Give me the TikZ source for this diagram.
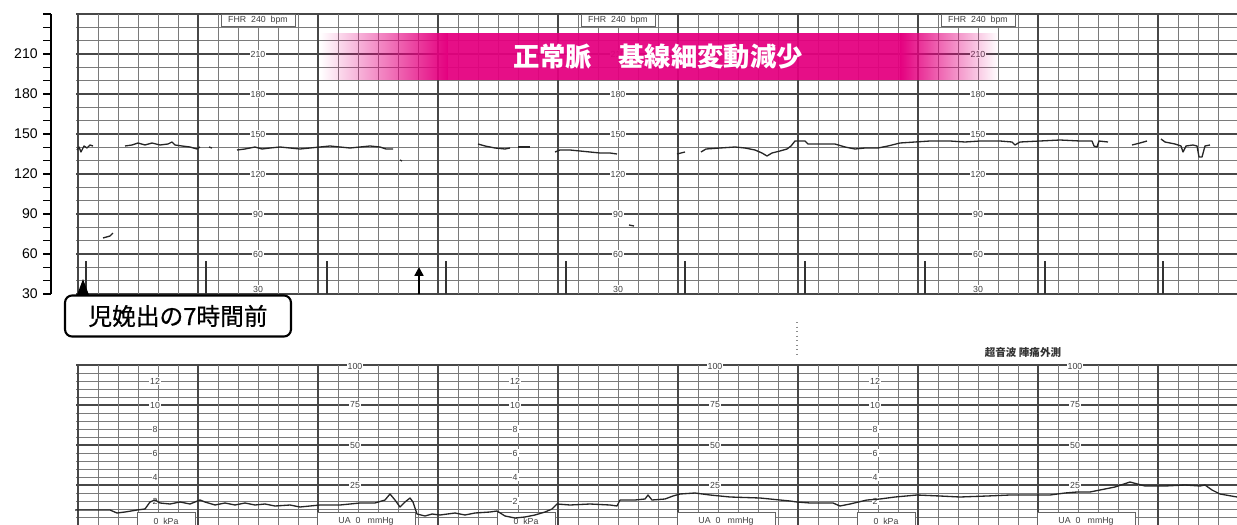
\documentclass[tikz,border=0pt]{standalone}
\usepackage{fontspec}
\setmainfont{Liberation Sans}
\newfontfamily\jpfont{Noto Sans CJK JP}
\newfontfamily\jpmid[FakeBold=0.6]{Noto Sans CJK JP}
\usetikzlibrary{arrows.meta,fadings}
\definecolor{ctgmag}{RGB}{228,0,127}
\tikzfading[name=fadein, left color=transparent!100, right color=transparent!0]
\tikzfading[name=fadeout, left color=transparent!0, right color=transparent!100]
\def\fhr#1{294-(#1-30)*4/3}
\tikzset{
	thin grid/.style={line width=0.4pt, color=black!52},
	thick grid/.style={line width=0.6pt, color=black!72},
	scale label/.style={fill=white, inner sep=0.6pt, font=\fontsize{5}{5}\selectfont, text=black!75},
	fhr box/.style={draw=black!60, line width=0.4pt, fill=white, inner sep=0pt, minimum width=1.48cm, minimum height=0.24cm, font=\fontsize{5}{5}\selectfont, text=black!75},
	zero box/.style={draw=black!60, line width=0.4pt, fill=white, inner sep=0pt, minimum height=0.36cm, font=\fontsize{5}{5}\selectfont, text=black!75},
	trace/.style={line width=0.75pt, color=black!85, line join=round},
	event mark/.style={line width=0.8pt, color=black!80},
}

\begin{document}
\begin{tikzpicture}[x=0.02cm, y=-0.02cm]
			%%%%% START %%%%%
			\useasboundingbox (0,0) rectangle (1237,524);
			
			% left bpm axis
			\draw[line width=0.6pt] (51,14) -- (51,294);
			\foreach \b in {30,40,...,240}
				\draw[line width=0.6pt] (43,{\fhr{\b}}) -- (51,{\fhr{\b}});
			\foreach \b in {30,60,...,210}
				\node[anchor=east, inner sep=0pt, font=\fontsize{8}{9}\selectfont] (ax\b) at (38,{\fhr{\b}}) {\b};
			
			% upper chart (FHR)
			\foreach \b in {30,40,...,240}
				\draw[thin grid] (76,{\fhr{\b}}) -- (1237,{\fhr{\b}});
			\foreach \b in {30,60,...,240}
				\draw[thick grid] (76,{\fhr{\b}}) -- (1237,{\fhr{\b}});
			\foreach \x in {78,98,...,1238}
				\draw[thin grid] (\x,14) -- (\x,294);
			\foreach \x in {78,198,...,1158}
				\draw[thick grid] (\x,14) -- (\x,294);
			
			% lower chart (UA)
			\foreach \k in {0,...,20}
				\draw[thin grid] (76,{525-8*\k}) -- (1237,{525-8*\k});
			\foreach \k in {5,10,15,20}
				\draw[thick grid] (76,{525-8*\k}) -- (1237,{525-8*\k});
			\foreach \x in {78,98,...,1238}
				\draw[thin grid] (\x,365) -- (\x,525);
			\foreach \x in {78,198,...,1158}
				\draw[thick grid] (\x,365) -- (\x,525);
			
			% printed scales
			\foreach \c in {258,618,978} {
				\node[fhr box] (fhr\c) at (\c,20) {FHR\ \ 240\ \ bpm};
				\foreach \b in {60,90,...,210}
					\node[scale label] (s\c-\b) at (\c,{\fhr{\b}}) {\b};
				\node[scale label] (s\c-30) at (\c,289) {30};
			}
			\foreach \c in {155,515,875} {
				\foreach \k in {2,4,...,12}
					\node[scale label] (k\c-\k) at (\c,{525-12*\k}) {\k};
				\node[zero box, minimum width=1.16cm] (kpa\c) at (\c+11,521) {0\ \ kPa};
			}
			\foreach \c in {355,715,1075} {
				\foreach \m in {25,50,75}
					\node[scale label] (m\c-\m) at (\c,{525-1.6*\m}) {\m};
				\node[scale label] (m\c-100) at (\c,366) {100};
				\node[zero box, minimum width=1.96cm] (ua\c) at (\c+11,521) {UA\ \ 0\ \ \ mmHg};
			}
			
			% event marks
			\foreach \x in {86,206,327,446,566,685,805,925,1045,1163}
				\draw[event mark] (\x,261) -- (\x,294);
			
			% FHR trace
			\draw[trace] (77,150) -- (79,147) -- (81,152) -- (84,146) -- (87,148) -- (90,145) -- (93,146);
			\draw[trace] (125,146) -- (132,145) -- (138,143) -- (145,145) -- (152,143) -- (160,145) -- (168,144) -- (172,142) -- (175,145) -- (182,146) -- (190,147) -- (197,149) -- (200,147);
			\draw[trace] (209,147) -- (212,148);
			\draw[trace] (237,150) -- (245,149) -- (255,147) -- (262,149) -- (270,148) -- (280,147) -- (290,148) -- (300,149) -- (310,148) -- (320,147) -- (330,146) -- (340,147) -- (350,148) -- (360,147) -- (370,146) -- (380,147) -- (386,149) -- (393,149);
			\draw[trace] (400,160) -- (402,161);
			\draw[trace] (478,144) -- (485,146) -- (495,148) -- (505,149) -- (510,148);
			\draw[trace] (518,147) -- (530,147);
			\draw[trace] (555,152) -- (560,150) -- (570,150) -- (580,151) -- (590,152) -- (600,153) -- (610,153) -- (617,154);
			\draw[trace] (677,154) -- (685,152);
			\draw[trace] (701,152) -- (706,149) -- (720,148) -- (735,147) -- (745,148) -- (755,150) -- (762,153) -- (767,156) -- (772,153) -- (780,151) -- (787,149) -- (791,146) -- (795,141) -- (805,141) -- (808,144) -- (820,144) -- (835,144) -- (845,147) -- (855,149) -- (865,148) -- (878,148) -- (888,146) -- (900,143) -- (915,142) -- (930,141) -- (950,141) -- (965,142) -- (980,141) -- (1000,141) -- (1012,142) -- (1015,145) -- (1020,142) -- (1040,141) -- (1060,140) -- (1080,141) -- (1092,141) -- (1094,146) -- (1097,147) -- (1099,141) -- (1108,142);
			\draw[trace] (1132,145) -- (1140,143) -- (1147,141);
			\draw[trace] (1161,139) -- (1165,142) -- (1175,144) -- (1181,146) -- (1183,152) -- (1186,146) -- (1193,145) -- (1197,146) -- (1199,157) -- (1202,157) -- (1205,146) -- (1210,145);
			\draw[trace] (103,238) -- (110,236) -- (113,233);
			\draw[trace] (629,225) -- (634,226);
			
			% UA trace
			\draw[trace] (75,510) -- (110,510) -- (117,513) -- (125,512) -- (137,510) -- (145,509) -- (150,502) -- (155,500) -- (160,503) -- (170,504) -- (180,502) -- (190,504) -- (200,500) -- (205,502) -- (215,505) -- (225,503) -- (235,505) -- (245,503) -- (255,505) -- (265,504) -- (275,506) -- (290,505) -- (300,507) -- (310,506) -- (320,505) -- (340,505) -- (360,503) -- (375,503) -- (385,500) -- (390,494) -- (395,500) -- (400,507) -- (405,502) -- (410,498) -- (413,502) -- (417,514) -- (425,516) -- (432,514) -- (440,515) -- (455,513) -- (465,515) -- (475,513) -- (490,512) -- (497,511) -- (505,516) -- (515,518) -- (525,517) -- (535,515) -- (545,512) -- (552,509) -- (557,504) -- (570,505) -- (590,504) -- (610,505) -- (617,506) -- (620,500) -- (635,500) -- (645,499) -- (648,495) -- (652,500) -- (665,499) -- (673,496) -- (680,494) -- (695,493) -- (710,495) -- (730,497) -- (760,498) -- (790,501) -- (797,502) -- (810,503) -- (833,503) -- (840,506) -- (850,504) -- (867,500) -- (880,499) -- (895,497) -- (917,495) -- (940,496) -- (960,497) -- (987,496) -- (1010,495) -- (1033,495) -- (1050,495) -- (1065,493) -- (1077,492) -- (1090,492) -- (1100,490) -- (1115,487) -- (1130,482) -- (1145,486) -- (1165,486) -- (1185,485) -- (1200,486) -- (1205,485) -- (1212,490) -- (1220,494) -- (1237,497);
			
			% sheet seam and probe label
			\draw[dotted, line width=0.6pt, color=black!45] (797,322) -- (797,358);
			\node[font=\jpfont\bfseries\fontsize{6}{6}\selectfont, text=black!80] (probe) at (1023,353) {超音波 陣痛外測};
			
			% banner
			\fill[ctgmag, path fading=fadein] (320,33) rectangle (448,80);
			\fill[ctgmag, fill opacity=0.94] (447,33) rectangle (901,80);
			\fill[ctgmag, path fading=fadeout] (900,33) rectangle (998,80);
			\node[font=\jpfont\bfseries\fontsize{15}{17}\selectfont, text=white] (title) at (658,57) {正常脈　基線細変動減少};
			
			% marker arrow
			\coordinate (mk) at (419,294);
			\draw[line width=1.4pt, -{Triangle[length=5pt, width=5pt]}] (mk) -- ++(0,-27);
			
			% callout
			\node[draw, line width=1.2pt, rounded corners=4pt, fill=white, minimum width=4.52cm, minimum height=0.82cm, font=\jpmid\fontsize{13.5}{15}\selectfont] (note) at (178,316) {児娩出の7時間前};
			\fill (77,295) -- (83,279) -- (89,295) -- cycle;
			
			%%%%% END %%%%%
\end{tikzpicture}
\end{document}
